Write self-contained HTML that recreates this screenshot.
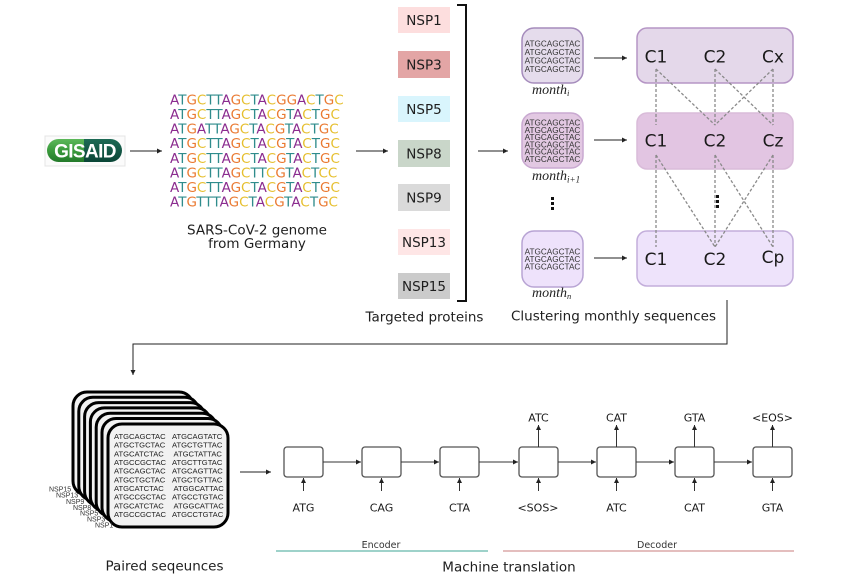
<!DOCTYPE html>
<html><head><meta charset="utf-8">
<style>
html,body{margin:0;padding:0;background:#fff;}
svg{display:block;}
text{font-family:"DejaVu Sans",sans-serif;fill:#1e1e1e;}
.a{fill:#8b2c8f}.t{fill:#2f8c8c}.g{fill:#ea7a32}.c{fill:#e6bf2e}
.m{font-family:"Liberation Sans",sans-serif;font-size:8.2px;fill:#333}
.p{font-family:"Liberation Sans",sans-serif;font-size:7.6px;fill:#222}
.n{font-family:"Liberation Sans",sans-serif;font-size:7px;fill:#333}
.lbl{font-size:13.5px}
.cl{font-size:17px;text-anchor:middle;fill:#1a1a1a}
.tok{font-size:11px;text-anchor:middle;fill:#1a1a1a}
.mo{font-family:"Liberation Serif",serif;font-style:italic;font-size:14px;fill:#222}
</style></head><body>
<svg width="845" height="583" viewBox="0 0 845 583" xmlns="http://www.w3.org/2000/svg">
<defs>
<marker id="ar" markerUnits="userSpaceOnUse" markerWidth="7" markerHeight="6" refX="5" refY="2.5" orient="auto"><path d="M0,0 L5,2.5 L0,5 z" fill="#222"/></marker>
<clipPath id="pill"><rect x="47" y="139" width="75" height="23" rx="11.5"/></clipPath>
<linearGradient id="gg" x1="0" y1="0" x2="0" y2="1"><stop offset="0" stop-color="#5cb85a"/><stop offset="0.5" stop-color="#3a9a3c"/><stop offset="1" stop-color="#237a2a"/></linearGradient>
<linearGradient id="gd" x1="0" y1="0" x2="0" y2="1"><stop offset="0" stop-color="#1d6a55"/><stop offset="1" stop-color="#0a4536"/></linearGradient>
</defs>

<!-- GISAID -->
<rect x="45" y="136" width="80" height="30" fill="#fbfbfb" stroke="#e4e4e4"/>
<g clip-path="url(#pill)">
<rect x="47" y="139" width="37" height="23" fill="url(#gg)"/>
<rect x="84" y="139" width="38" height="23" fill="url(#gd)"/>
</g>
<text x="85" y="157.5" text-anchor="middle" style="font-family:'Liberation Sans',sans-serif;font-weight:bold;font-size:19px;fill:#fff;letter-spacing:-0.6px">GISAID</text>
<line x1="130" y1="151" x2="162" y2="151" stroke="#222" stroke-width="1" marker-end="url(#ar)"/>

<!-- sequences -->
<g style="font-size:13.5px">
<text x="170" y="104.5"><tspan class="a">A</tspan><tspan class="t">T</tspan><tspan class="g">G</tspan><tspan class="c">C</tspan><tspan class="t">TT</tspan><tspan class="a">A</tspan><tspan class="g">G</tspan><tspan class="c">C</tspan><tspan class="t">T</tspan><tspan class="a">A</tspan><tspan class="c">C</tspan><tspan class="g">GG</tspan><tspan class="a">A</tspan><tspan class="c">C</tspan><tspan class="t">T</tspan><tspan class="g">G</tspan><tspan class="c">C</tspan></text>
<text x="170" y="119"><tspan class="a">A</tspan><tspan class="t">T</tspan><tspan class="g">G</tspan><tspan class="c">C</tspan><tspan class="t">TT</tspan><tspan class="a">A</tspan><tspan class="g">G</tspan><tspan class="c">C</tspan><tspan class="t">T</tspan><tspan class="a">A</tspan><tspan class="c">C</tspan><tspan class="g">G</tspan><tspan class="t">T</tspan><tspan class="a">A</tspan><tspan class="c">C</tspan><tspan class="t">T</tspan><tspan class="g">G</tspan><tspan class="c">C</tspan></text>
<text x="170" y="133.6"><tspan class="a">A</tspan><tspan class="t">T</tspan><tspan class="g">G</tspan><tspan class="a">A</tspan><tspan class="t">TT</tspan><tspan class="a">A</tspan><tspan class="g">G</tspan><tspan class="c">C</tspan><tspan class="t">T</tspan><tspan class="a">A</tspan><tspan class="c">C</tspan><tspan class="g">G</tspan><tspan class="t">T</tspan><tspan class="a">A</tspan><tspan class="c">C</tspan><tspan class="t">T</tspan><tspan class="g">G</tspan><tspan class="c">C</tspan></text>
<text x="170" y="148.2"><tspan class="a">A</tspan><tspan class="t">T</tspan><tspan class="g">G</tspan><tspan class="c">C</tspan><tspan class="t">TT</tspan><tspan class="a">A</tspan><tspan class="g">G</tspan><tspan class="c">C</tspan><tspan class="t">T</tspan><tspan class="a">A</tspan><tspan class="c">C</tspan><tspan class="g">G</tspan><tspan class="t">T</tspan><tspan class="a">A</tspan><tspan class="c">C</tspan><tspan class="t">T</tspan><tspan class="g">G</tspan><tspan class="c">C</tspan></text>
<text x="170" y="162.8"><tspan class="a">A</tspan><tspan class="t">T</tspan><tspan class="g">G</tspan><tspan class="c">C</tspan><tspan class="t">TT</tspan><tspan class="a">A</tspan><tspan class="g">G</tspan><tspan class="c">C</tspan><tspan class="t">T</tspan><tspan class="a">A</tspan><tspan class="c">C</tspan><tspan class="g">G</tspan><tspan class="t">T</tspan><tspan class="a">A</tspan><tspan class="c">C</tspan><tspan class="t">T</tspan><tspan class="g">G</tspan><tspan class="c">C</tspan></text>
<text x="170" y="177.4"><tspan class="a">A</tspan><tspan class="t">T</tspan><tspan class="g">G</tspan><tspan class="c">C</tspan><tspan class="t">TT</tspan><tspan class="a">A</tspan><tspan class="g">G</tspan><tspan class="c">C</tspan><tspan class="t">TT</tspan><tspan class="c">C</tspan><tspan class="g">G</tspan><tspan class="t">T</tspan><tspan class="a">A</tspan><tspan class="c">C</tspan><tspan class="t">T</tspan><tspan class="c">CC</tspan></text>
<text x="170" y="192"><tspan class="a">A</tspan><tspan class="t">T</tspan><tspan class="g">G</tspan><tspan class="c">C</tspan><tspan class="t">TT</tspan><tspan class="a">A</tspan><tspan class="g">G</tspan><tspan class="c">C</tspan><tspan class="t">T</tspan><tspan class="a">A</tspan><tspan class="c">C</tspan><tspan class="g">G</tspan><tspan class="t">T</tspan><tspan class="a">A</tspan><tspan class="c">C</tspan><tspan class="t">T</tspan><tspan class="g">G</tspan><tspan class="c">C</tspan></text>
<text x="170" y="206.5"><tspan class="a">A</tspan><tspan class="t">T</tspan><tspan class="g">G</tspan><tspan class="t">TTT</tspan><tspan class="a">A</tspan><tspan class="g">G</tspan><tspan class="c">C</tspan><tspan class="t">T</tspan><tspan class="a">A</tspan><tspan class="c">C</tspan><tspan class="g">G</tspan><tspan class="t">T</tspan><tspan class="a">A</tspan><tspan class="c">C</tspan><tspan class="t">T</tspan><tspan class="g">G</tspan><tspan class="c">C</tspan></text>
</g>
<text class="lbl" x="257" y="234.5" text-anchor="middle">SARS-CoV-2 genome</text>
<text class="lbl" x="257" y="248" text-anchor="middle">from Germany</text>
<line x1="356" y1="151" x2="388" y2="151" stroke="#222" stroke-width="1" marker-end="url(#ar)"/>

<!-- NSP boxes -->
<g style="font-size:13.5px">
<rect x="398" y="7" width="52" height="26" fill="#fddede"/><text x="424" y="25" text-anchor="middle">NSP1</text>
<rect x="398" y="51" width="52" height="27" fill="#e3a5a5"/><text x="424" y="69.5" text-anchor="middle">NSP3</text>
<rect x="398" y="96" width="52" height="26" fill="#d9f5fd"/><text x="424" y="114" text-anchor="middle">NSP5</text>
<rect x="398" y="140" width="52" height="27" fill="#c9d6c9"/><text x="424" y="158.5" text-anchor="middle">NSP8</text>
<rect x="398" y="184" width="52" height="27" fill="#dadada"/><text x="424" y="202.5" text-anchor="middle">NSP9</text>
<rect x="398" y="229" width="52" height="26" fill="#fee6e6"/><text x="424" y="247" text-anchor="middle">NSP13</text>
<rect x="398" y="273" width="52" height="26" fill="#cbcbcb"/><text x="424" y="291" text-anchor="middle">NSP15</text>
</g>
<path d="M457,5 H466 V301 H457" fill="none" stroke="#111" stroke-width="2"/>
<text class="lbl" x="424.5" y="321.5" text-anchor="middle">Targeted proteins</text>
<line x1="478" y1="151" x2="508" y2="151" stroke="#222" stroke-width="1" marker-end="url(#ar)"/>

<!-- month boxes -->
<rect x="522" y="28" width="61" height="55" rx="12" fill="#e5dcec" stroke="#a58cbc" stroke-width="1.5"/>
<text class="m" x="552.5" text-anchor="middle"><tspan x="552.5" y="46.3">ATGCAGCTAC</tspan><tspan x="552.5" y="54.8">ATGCAGCTAC</tspan><tspan x="552.5" y="63.5">ATGCAGCTAC</tspan><tspan x="552.5" y="72.2">ATGCAGCTAC</tspan></text>
<rect x="522" y="113" width="61" height="55" rx="12" fill="#e2c8e2" stroke="#c9a9d1" stroke-width="1.5"/>
<text class="m" x="552.5" text-anchor="middle"><tspan x="552.5" y="125.5">ATGCAGCTAC</tspan><tspan x="552.5" y="132.8">ATGCAGCTAC</tspan><tspan x="552.5" y="140">ATGCAGCTAC</tspan><tspan x="552.5" y="147.3">ATGCAGCTAC</tspan><tspan x="552.5" y="154.6">ATGCAGCTAC</tspan><tspan x="552.5" y="161.9">ATGCAGCTAC</tspan></text>
<rect x="522" y="231" width="61" height="56" rx="12" fill="#eee2fb" stroke="#b8a4d4" stroke-width="1.5"/>
<text class="m" x="552.5" text-anchor="middle"><tspan x="552.5" y="254.7">ATGCAGCTAC</tspan><tspan x="552.5" y="262.2">ATGCAGCTAC</tspan><tspan x="552.5" y="269.7">ATGCAGCTAC</tspan></text>

<text class="mo" x="532" y="94">month<tspan font-size="8.5" dy="2">i</tspan></text>
<text class="mo" x="532" y="180">month<tspan font-size="9" dy="2.5">i+1</tspan></text>
<text class="mo" x="532" y="297">month<tspan font-size="8.5" dy="2">n</tspan></text>

<rect x="551" y="197" width="3" height="3" fill="#111"/><rect x="551" y="202" width="3" height="3" fill="#111"/><rect x="551" y="207" width="3" height="3" fill="#111"/>

<line x1="594" y1="58" x2="627" y2="58" stroke="#222" stroke-width="1" marker-end="url(#ar)"/>
<line x1="594" y1="140" x2="627" y2="140" stroke="#222" stroke-width="1" marker-end="url(#ar)"/>
<line x1="594" y1="258" x2="627" y2="258" stroke="#222" stroke-width="1" marker-end="url(#ar)"/>

<!-- cluster boxes -->
<rect x="637" y="28" width="156" height="55" rx="10" fill="#e4d8ea" stroke="#b595c5" stroke-width="1.5"/>
<rect x="637" y="113" width="156" height="56" rx="10" fill="#e2c5e2" stroke="#d9bbd9" stroke-width="1.5"/>
<rect x="637" y="231" width="156" height="55" rx="10" fill="#eee3fb" stroke="#c3aedb" stroke-width="1.5"/>

<g stroke="#8a8a8a" stroke-width="1.3" stroke-dasharray="3,2" fill="none">
<line x1="656" y1="69" x2="656" y2="125"/>
<line x1="715" y1="69" x2="715" y2="125"/>
<line x1="773" y1="69" x2="773" y2="125"/>
<line x1="656" y1="69" x2="715" y2="125"/>
<line x1="715" y1="69" x2="773" y2="125"/>
<line x1="773" y1="69" x2="715" y2="125"/>
<line x1="656" y1="155" x2="656" y2="247"/>
<line x1="715" y1="155" x2="715" y2="247"/>
<line x1="773" y1="155" x2="773" y2="247"/>
<line x1="656" y1="155" x2="715" y2="247"/>
<line x1="715" y1="155" x2="773" y2="247"/>
<line x1="773" y1="155" x2="715" y2="247"/>
</g>
<text class="cl" x="656" y="62.7">C1</text><text class="cl" x="715" y="62.7">C2</text><text class="cl" x="773" y="62.7">Cx</text>
<text class="cl" x="656" y="146.5">C1</text><text class="cl" x="715" y="146.5">C2</text><text class="cl" x="773" y="146.5">Cz</text>
<text class="cl" x="656" y="265">C1</text><text class="cl" x="715" y="265">C2</text><text class="cl" x="773" y="263">Cp</text>

<rect x="716" y="195" width="3" height="3" fill="#111"/><rect x="716" y="200" width="3" height="3" fill="#111"/><rect x="716" y="205" width="3" height="3" fill="#111"/>

<text class="lbl" x="613.5" y="320.5" text-anchor="middle">Clustering monthly sequences</text>

<!-- connector -->
<path d="M727,300 V344 H133 V375" fill="none" stroke="#222" stroke-width="1" marker-end="url(#ar)"/>

<!-- paired stacks -->
<g stroke="#000" stroke-width="3" fill="#f2f2f2">
<rect x="73" y="392" width="120" height="103" rx="14"/>
</g>
<text class="p" x="79" y="407">A</text>
<rect x="78.8" y="397.3" width="120" height="103" rx="14" fill="#f2f2f2" stroke="#000" stroke-width="3"/>
<text class="p" x="84.8" y="412.3">A</text>
<rect x="84.6" y="402.6" width="120" height="103" rx="14" fill="#f2f2f2" stroke="#000" stroke-width="3"/>
<text class="p" x="90.6" y="417.6">A</text>
<rect x="90.4" y="407.9" width="120" height="103" rx="14" fill="#f2f2f2" stroke="#000" stroke-width="3"/>
<text class="p" x="96.4" y="422.9">A</text>
<rect x="96.2" y="413.2" width="120" height="103" rx="14" fill="#f2f2f2" stroke="#000" stroke-width="3"/>
<text class="p" x="102.2" y="428.2">A</text>
<rect x="102" y="418.5" width="120" height="103" rx="14" fill="#f2f2f2" stroke="#000" stroke-width="3"/>
<text class="p" x="108" y="433.5">A</text>
<rect x="108" y="424" width="120" height="103" rx="14" fill="#f2f2f2" stroke="#000" stroke-width="3"/>
<text class="p">
<tspan x="114" y="439">ATGCAGCTAC</tspan><tspan x="172" y="439">ATGCAGTATC</tspan>
<tspan x="114" y="447.7">ATGCTGCTAC</tspan><tspan x="172" y="447.7">ATGCTGTTAC</tspan>
<tspan x="114" y="456.4">ATGCATCTAC</tspan><tspan x="173.5" y="456.4">ATGCTATTAC</tspan>
<tspan x="114" y="465">ATGCCGCTAC</tspan><tspan x="172" y="465">ATGCTTGTAC</tspan>
<tspan x="114" y="473.7">ATGCAGCTAC</tspan><tspan x="172" y="473.7">ATGCAGTTAC</tspan>
<tspan x="114" y="482.4">ATGCTGCTAC</tspan><tspan x="172" y="482.4">ATGCTGTTAC</tspan>
<tspan x="114" y="491">ATGCATCTAC</tspan><tspan x="173.5" y="491">ATGGCATTAC</tspan>
<tspan x="114" y="499.7">ATGCCGCTAC</tspan><tspan x="172" y="499.7">ATGCCTGTAC</tspan>
<tspan x="114" y="508.4">ATGCATCTAC</tspan><tspan x="173.5" y="508.4">ATGGCATTAC</tspan>
<tspan x="114" y="517">ATGCCGCTAC</tspan><tspan x="172" y="517">ATGCCTGTAC</tspan>
</text>
<text class="n" x="49" y="491.5">NSP15</text>
<text class="n" x="56" y="497.5">NSP13</text>
<text class="n" x="66" y="504">NSP9</text>
<text class="n" x="73" y="510">NSP8</text>
<text class="n" x="80" y="515.5">NSP5</text>
<text class="n" x="87" y="521.5">NSP3</text>
<text class="n" x="95" y="527.5">NSP1</text>

<text class="lbl" x="164.5" y="570.5" text-anchor="middle">Paired seqeunces</text>

<line x1="240" y1="472" x2="271" y2="472" stroke="#222" stroke-width="1" marker-end="url(#ar)"/>

<!-- encoder/decoder -->
<g fill="#fff" stroke="#555" stroke-width="1.3">
<rect x="284" y="447" width="39" height="30" rx="3"/>
<rect x="362" y="447" width="39" height="30" rx="3"/>
<rect x="440" y="447" width="39" height="30" rx="3"/>
<rect x="519" y="447" width="39" height="30" rx="3"/>
<rect x="597" y="447" width="39" height="30" rx="3"/>
<rect x="675" y="447" width="39" height="30" rx="3"/>
<rect x="753" y="447" width="39" height="30" rx="3"/>
</g>
<g stroke="#333" stroke-width="1" marker-end="url(#ar)">
<line x1="323" y1="462" x2="361" y2="462"/>
<line x1="401" y1="462" x2="439" y2="462"/>
<line x1="479" y1="462" x2="518" y2="462"/>
<line x1="558" y1="462" x2="596" y2="462"/>
<line x1="636" y1="462" x2="674" y2="462"/>
<line x1="714" y1="462" x2="752" y2="462"/>
<line x1="303.5" y1="491" x2="303.5" y2="478"/>
<line x1="381.5" y1="491" x2="381.5" y2="478"/>
<line x1="459.5" y1="491" x2="459.5" y2="478"/>
<line x1="538.5" y1="491" x2="538.5" y2="478"/>
<line x1="616.5" y1="491" x2="616.5" y2="478"/>
<line x1="694.5" y1="491" x2="694.5" y2="478"/>
<line x1="772.5" y1="491" x2="772.5" y2="478"/>
<line x1="538.5" y1="447" x2="538.5" y2="425"/>
<line x1="616.5" y1="447" x2="616.5" y2="425"/>
<line x1="694.5" y1="447" x2="694.5" y2="425"/>
<line x1="772.5" y1="447" x2="772.5" y2="425"/>
</g>
<text class="tok" x="303.5" y="511.7">ATG</text>
<text class="tok" x="381.5" y="511.7">CAG</text>
<text class="tok" x="459.5" y="511.7">CTA</text>
<text class="tok" x="538" y="511.7">&lt;SOS&gt;</text>
<text class="tok" x="616.5" y="511.7">ATC</text>
<text class="tok" x="694.5" y="511.7">CAT</text>
<text class="tok" x="772.5" y="511.7">GTA</text>
<text class="tok" x="538.5" y="421.7">ATC</text>
<text class="tok" x="616.5" y="421.7">CAT</text>
<text class="tok" x="694.5" y="421.7">GTA</text>
<text class="tok" x="772.5" y="421.7">&lt;EOS&gt;</text>

<line x1="276" y1="551" x2="488" y2="551" stroke="#7fc3b8" stroke-width="1.6"/>
<line x1="503" y1="551" x2="794" y2="551" stroke="#dca8a8" stroke-width="1.6"/>
<text x="381" y="548" text-anchor="middle" style="font-size:9.5px;fill:#333">Encoder</text>
<text x="657" y="548" text-anchor="middle" style="font-size:9.5px;fill:#333">Decoder</text>
<text class="lbl" x="509" y="571.5" text-anchor="middle">Machine translation</text>
</svg>
</body></html>
